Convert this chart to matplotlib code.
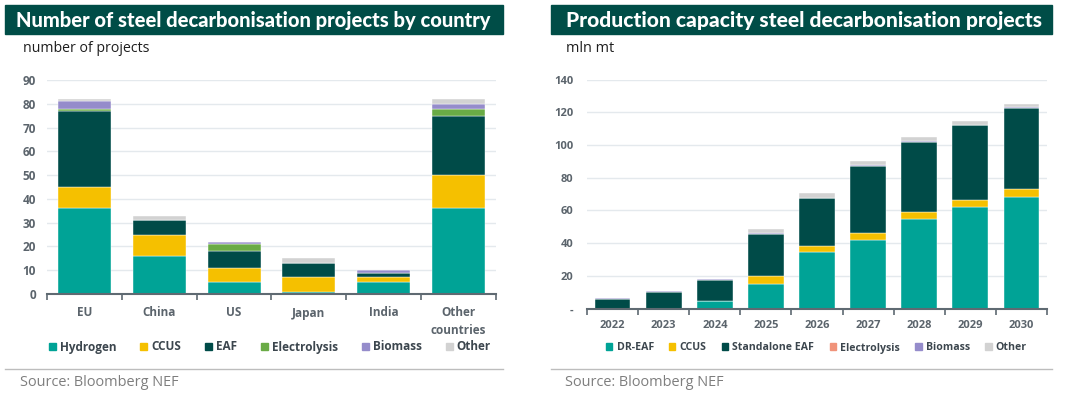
import matplotlib
matplotlib.use("Agg")
import matplotlib.pyplot as plt
import numpy as np
from matplotlib.patches import Rectangle, Patch

plt.rcParams['font.family'] = ['Open Sans', 'DejaVu Sans']

# ---------------- data ----------------
countries = ["EU", "China", "US", "Japan", "India", "Other\ncountries"]
left_series = ["Hydrogen", "CCUS", "EAF", "Electrolysis", "Biomass", "Other"]
hydrogen = [36, 16, 5, 1, 5, 36]
ccus_l = [9, 9, 6, 6, 2, 14]
eaf = [32, 6, 7, 6, 2, 25]
electrolysis_l = [1, 0, 3, 0, 0, 3]
biomass_l = [3, 0, 1, 0, 1, 2]
other_l = [1, 2, 0, 2, 0, 2]
left_yticks = [0, 10, 20, 30, 40, 50, 60, 70, 80, 90]

years = ["2022", "2023", "2024", "2025", "2026", "2027", "2028", "2029", "2030"]
right_series = ["DR-EAF", "CCUS", "Standalone EAF", "Electrolysis", "Biomass", "Other"]
dr_eaf = [0, 0, 4.4, 15.2, 34.4, 42.0, 54.5, 62.0, 68.5]
ccus_r = [0, 0, 0, 4.5, 4.0, 4.5, 4.5, 4.5, 4.5]
standalone_eaf = [6.0, 10.2, 13.2, 26.0, 29.0, 41.0, 43.0, 45.5, 49.5]
electrolysis_r = [0, 0, 0, 0, 0, 0, 0, 0, 0]
biomass_r = [0.4, 0.4, 0.5, 0.5, 0.5, 0.5, 0.5, 0.5, 0.5]
other_r = [0.2, 0, 0, 2.2, 2.5, 2.5, 2.5, 2.0, 2.0]
right_yticks = [0, 20, 40, 60, 80, 100, 120, 140]
right_yticklabels = ["-", "20", "40", "60", "80", "100", "120", "140"]

left_colors = ["#00A396", "#F5C000", "#004B48", "#6AAB46", "#958CCB", "#D2D2D2"]
right_colors = ["#00A396", "#F5C000", "#004B48", "#F0937A", "#958CCB", "#D2D2D2"]

BANNER = "#004D47"
TICKC = "#5B646C"
GRID = "#E4E9ED"

W, H = 1077, 398
fig = plt.figure(figsize=(W / 100, H / 100), dpi=100)
fig.patch.set_facecolor("white")


def fx(px):
    return px / W


def fy(py):
    return 1 - py / H


def fit_text(x, y, s, width_px, **kw):
    t = fig.text(x, y, s, **kw)
    fig.canvas.draw()
    r = fig.canvas.get_renderer()
    w = t.get_window_extent(r).width
    t.set_fontsize(t.get_fontsize() * width_px / w)
    return t


def stacked(ax, cats, series, colors, names, width):
    x = np.arange(len(cats))
    bottom = np.zeros(len(cats))
    for vals, c, n in zip(series, colors, names):
        v = np.array(vals, dtype=float)
        ax.bar(x, v, width, bottom=bottom, color=c, label=n, edgecolor="white", linewidth=0.3)
        bottom += v
    ax.set_xlim(-0.5, len(cats) - 0.5)
    ax.set_xticks(x)
    ax.set_xticklabels(cats)
    ax.set_xticks(np.arange(-0.5, len(cats), 1.0), minor=True)
    ax.tick_params(axis="x", which="major", length=0, pad=9, labelsize=8.5, labelcolor=TICKC)
    ax.tick_params(axis="x", which="minor", length=4, width=1.2, color="#5F6A72", direction="out")
    ax.tick_params(axis="y", length=0, pad=8, labelsize=8.5, labelcolor=TICKC)
    for s in ["top", "right", "left"]:
        ax.spines[s].set_visible(False)
    ax.spines["bottom"].set_color("#5F6A72")
    ax.spines["bottom"].set_linewidth(1.5)
    ax.grid(axis="y", color=GRID, linewidth=1)
    ax.set_axisbelow(True)


def bolden(ax):
    for lab in ax.get_xticklabels() + ax.get_yticklabels():
        lab.set_fontweight("bold")


# ---------------- left chart ----------------
axL = fig.add_axes([fx(47), fy(294), fx(496) - fx(47), fy(80) - fy(294)])
stacked(axL, countries, [hydrogen, ccus_l, eaf, electrolysis_l, biomass_l, other_l],
        left_colors, left_series, 0.71)
axL.set_ylim(0, 90)
axL.set_yticks(left_yticks)
for lab in axL.get_xticklabels():
    lab.set_linespacing(1.4)
bolden(axL)

# ---------------- right chart ----------------
axR = fig.add_axes([fx(587), fy(308.5), fx(1047) - fx(587), fy(79.7) - fy(308.5)])
stacked(axR, years, [dr_eaf, ccus_r, standalone_eaf, electrolysis_r, biomass_r, other_r],
        right_colors, right_series, 0.70)
axR.set_ylim(0, 140)
axR.set_yticks(right_yticks)
axR.set_yticklabels(right_yticklabels)
axR.tick_params(axis="x", which="major", pad=8, labelsize=8)
axR.tick_params(axis="y", labelsize=8, pad=10)
bolden(axR)

# ---------------- banners & texts ----------------
fig.patches.append(Rectangle((fx(5), fy(34)), fx(503) - fx(5), fy(5) - fy(34),
                             transform=fig.transFigure, color=BANNER, zorder=0))
fig.patches.append(Rectangle((fx(551), fy(34)), fx(1052) - fx(551), fy(5) - fy(34),
                             transform=fig.transFigure, color=BANNER, zorder=0))
fit_text(fx(16), fy(20.5), "Number of steel decarbonisation projects by country", 474,
         color="white", fontweight="black", fontsize=13, va="center", ha="left",
         family=["Lato", "DejaVu Sans"])
fit_text(fx(566), fy(20.5), "Production capacity steel decarbonisation projects", 472,
         color="white", fontweight="black", fontsize=13, va="center", ha="left",
         family=["Lato", "DejaVu Sans"])

fit_text(fx(23), fy(48), "number of projects", 126, fontsize=10, color="#1E1E1E",
         va="center", ha="left")
fit_text(fx(566), fy(48), "mln mt", 48, fontsize=10, color="#1E1E1E", va="center", ha="left")

# separators
fig.add_artist(plt.Line2D([fx(5), fx(503)], [fy(369), fy(369)], color="#BDBDBD", linewidth=1))
fig.add_artist(plt.Line2D([fx(551), fx(1052)], [fy(369), fy(369)], color="#BDBDBD", linewidth=1))

fit_text(fx(20), fy(382.5), "Source: Bloomberg NEF", 159, fontsize=11, color="#7E7E7E",
         va="center", ha="left")
fit_text(fx(565), fy(383), "Source: Bloomberg NEF", 160, fontsize=11, color="#7E7E7E",
         va="center", ha="left")

# legends
hL = [Patch(color=c, label=n) for c, n in zip(left_colors, left_series)]
legL = fig.legend(handles=hL, loc="center left", bbox_to_anchor=(fx(49), fy(347)), ncol=6,
                  frameon=False, fontsize=8.5, handlelength=0.6, handleheight=0.6,
                  handletextpad=0.35, columnspacing=2.0, borderpad=0, borderaxespad=0)
hR = [Patch(color=c, label=n) for c, n in zip(right_colors, right_series)]
legR = fig.legend(handles=hR, loc="center left", bbox_to_anchor=(fx(606), fy(348)), ncol=6,
                  frameon=False, fontsize=7.6, handlelength=0.6, handleheight=0.6,
                  handletextpad=0.4, columnspacing=1.45, borderpad=0, borderaxespad=0)
for leg in (legL, legR):
    for t in leg.get_texts():
        t.set_color("#3C464E")
        t.set_fontweight("bold")

fig.savefig("out.png", dpi=100)
